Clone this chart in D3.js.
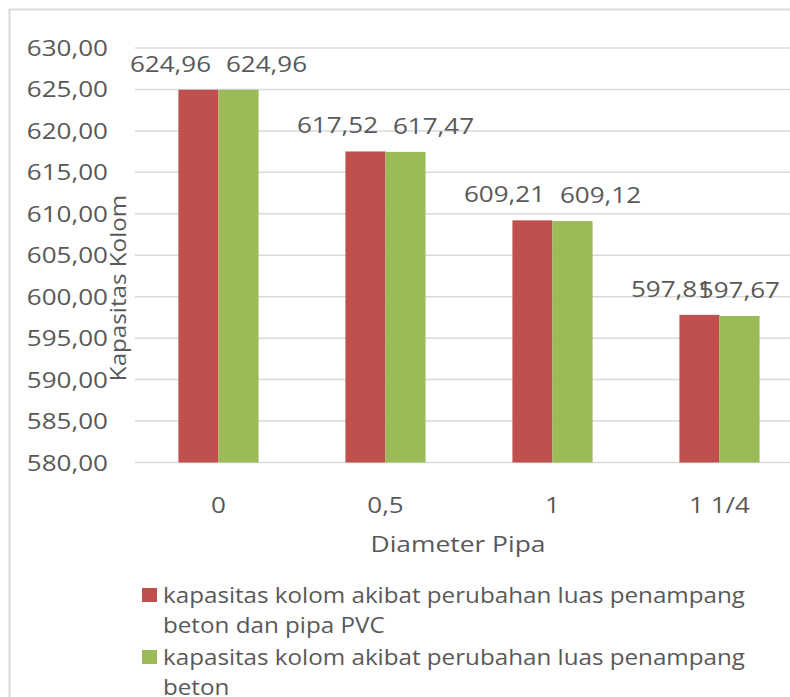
<!DOCTYPE html>
<html>
<head>
<meta charset="utf-8">
<script src="https://cdn.jsdelivr.net/npm/d3@7"></script>
<style>
  html, body { margin: 0; padding: 0; background: #fff; }
  svg { display: block; }
  text { font-family: "Open Sans", "Liberation Sans", sans-serif; fill: #595959; }
</style>
</head>
<body>
<svg id="chart" width="790" height="697"></svg>
<script>
// ---- data ----
const categories = ["0", "0,5", "1", "1 1/4"];
const seriesNames = [
  ["kapasitas kolom akibat perubahan luas penampang", "beton dan pipa PVC"],
  ["kapasitas kolom akibat perubahan luas penampang", "beton"]
];
const seriesPVC = [624.96, 617.52, 609.21, 597.81];
const seriesBeton = [624.96, 617.47, 609.12, 597.67];
const yTicks = [580, 585, 590, 595, 600, 605, 610, 615, 620, 625, 630];
const colors = ["#C0504D", "#9BBB59"];
const xTitle = "Diameter Pipa";
const yTitle = "Kapasitas Kolom";

const fmt = v => v.toFixed(2).replace(".", ",");

const svg = d3.select("#chart");

// chart border (cropped at right/bottom like the reference)
svg.append("path")
  .attr("d", "M9.5,697 L9.5,9.5 L790,9.5")
  .attr("fill", "none").attr("stroke", "#D9D9D9").attr("stroke-width", 2);

const plot = { left: 135, right: 803, top: 48, bottom: 462.5 };

const y = d3.scaleLinear().domain([580, 630]).range([plot.bottom, plot.top]);
const x0 = d3.scaleBand().domain(categories).range([plot.left, plot.right])
  .paddingInner(0.52).paddingOuter(0.26);
const x1 = d3.scaleBand().domain([0, 1]).range([0, x0.bandwidth()]);

// stretched text helper
function stext(parent, x, y, str, size, sx, anchor, rotate) {
  const g = parent.append("g")
    .attr("transform", `translate(${x},${y})` + (rotate ? ` rotate(${rotate})` : "") + ` scale(${sx},1)`);
  const t = g.append("text").attr("text-anchor", anchor || "start")
    .attr("font-size", size).text(str);
  return { g, t, width: t.node().getComputedTextLength() * sx };
}

// gridlines
svg.append("g").selectAll("line").data(yTicks).join("line")
  .attr("x1", plot.left).attr("x2", 790)
  .attr("y1", d => y(d)).attr("y2", d => y(d))
  .attr("stroke", "#D9D9D9").attr("stroke-width", 1.5);

// y tick labels
const yAxisG = svg.append("g");
yTicks.forEach(t => stext(yAxisG, 108, y(t) + 8, fmt(t), 21, 1.24, "end"));

// bars
const data = categories.map((c, i) => ({ cat: c, vals: [seriesPVC[i], seriesBeton[i]] }));
const groups = svg.append("g").selectAll("g").data(data).join("g")
  .attr("transform", d => `translate(${x0(d.cat)},0)`);
groups.selectAll("rect").data(d => d.vals.map((v, k) => ({ v, k }))).join("rect")
  .attr("x", d => x1(d.k)).attr("width", x1.bandwidth())
  .attr("y", d => y(d.v)).attr("height", d => y(580) - y(d.v))
  .attr("fill", d => colors[d.k]);

// data labels
const lblG = svg.append("g");
data.forEach(d => {
  const c = x0(d.cat) + x0.bandwidth() / 2;
  d.vals.forEach((v, k) => {
    const s = stext(lblG, 0, 0, fmt(v), 21, 1.24, "middle");
    let cx = c + (k === 0 ? -48 : 48);
    if (cx + s.width / 2 > 780) cx = 780 - s.width / 2;
    s.g.attr("transform", `translate(${cx},${y(v) - 18}) scale(1.24,1)`);
  });
});

// x tick labels
const xAxisG = svg.append("g");
categories.forEach(c => stext(xAxisG, x0(c) + x0.bandwidth() / 2, 513, c, 21, 1.24, "middle"));

// axis titles
stext(svg, 458, 552, xTitle, 22, 1.2, "middle");
stext(svg, 126, 288, yTitle, 22, 1.1, "middle", -90);

// legend
const leg = svg.append("g");
seriesNames.forEach((lines, i) => {
  const top = 588 + i * 62;
  leg.append("rect").attr("x", 142).attr("y", top).attr("width", 15).attr("height", 14)
    .attr("fill", colors[i]);
  lines.forEach((ln, j) => stext(leg, 163, top + 15 + j * 30, ln, 22, 1.1, "start"));
});
</script>
</body>
</html>
